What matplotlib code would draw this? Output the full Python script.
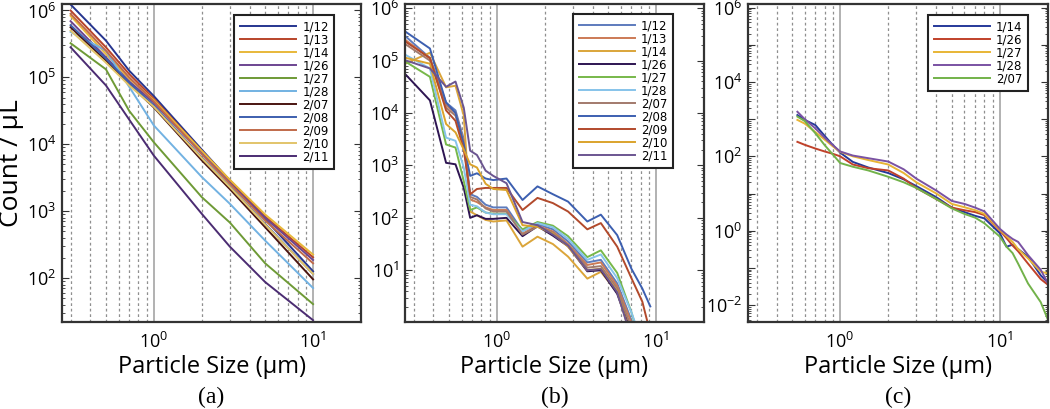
"""Particle size distributions, three panels (a)-(c), log-log counts per uL."""

import matplotlib

matplotlib.use("Agg")
import matplotlib.pyplot as plt
import numpy as np
from matplotlib.ticker import FixedLocator, FuncFormatter, LogLocator, NullFormatter

# ---- panel (a): smooth distributions --------------------------------------
a_size = [0.3, 0.5, 0.7, 1.0, 2.0, 3.0, 5.0, 10.0]
a_0112 = [1.23e6, 3.55e5, 1.26e5, 5.25e4, 8.32e3, 2.88e3, 759, 126]
a_0113 = [1.0e6, 2.82e5, 1.12e5, 4.79e4, 7.94e3, 2.88e3, 832, 204]
a_0114 = [8.32e5, 2.24e5, 9.55e4, 4.57e4, 7.94e3, 2.95e3, 891, 224]
a_0126 = [6.92e5, 2.0e5, 8.71e4, 4.17e4, 7.24e3, 2.63e3, 794, 186]
a_0127 = [3.24e5, 1.32e5, 3.16e4, 1.07e4, 1.62e3, 676, 166, 40.7]
a_0128 = [4.79e5, 2.51e5, 7.24e4, 1.91e4, 3.24e3, 1.29e3, 363, 70.8]
a_0207 = [5.62e5, 1.78e5, 7.94e4, 3.55e4, 5.75e3, 2.14e3, 575, 95.5]
a_0208 = [6.03e5, 1.91e5, 8.32e4, 3.80e4, 6.31e3, 2.34e3, 646, 115]
a_0209 = [8.91e5, 2.51e5, 1.0e5, 4.37e4, 7.08e3, 2.57e3, 724, 166]
a_0210 = [5.01e5, 1.66e5, 7.59e4, 3.63e4, 6.17e3, 2.29e3, 631, 115]
a_0211 = [2.82e5, 7.59e4, 2.34e4, 6.76e3, 912, 295, 87.1, 23.4]
a_labels = ["1/12", "1/13", "1/14", "1/26", "1/27", "1/28",
            "2/07", "2/08", "2/09", "2/10", "2/11"]
a_colors = ["#26358f", "#b8442a", "#e8b83a", "#6c4590", "#6e9a36", "#72b2e2",
            "#4a1410", "#3d5fae", "#c06a4a", "#e2c46a", "#4b2c72"]

# ---- panel (b): binned, jagged ------------------------------------------
b_size = [0.27, 0.38, 0.48, 0.55, 0.62, 0.68, 0.75, 0.85, 0.95, 1.15,
          1.45, 1.8, 2.25, 2.8, 3.7, 4.5, 5.7, 7.0, 8.2, 9.2]
b_0112 = [2.82e5, 1.12e5, 1.58e4, 1.12e4, 3.16e3, 282, 251, 178, 158, 158,
          56.2, 75.9, 60.3, 35.5, 14.1, 15.8, 5.62, 1.12, 0.25, 0.1]
b_0113 = [2.40e5, 1.10e5, 1.41e4, 1.0e4, 2.82e3, 224, 200, 158, 141, 141,
          50.1, 70.8, 55.0, 31.6, 12.6, 14.1, 5.01, 1.0, 0.2, 0.1]
b_0114 = [8.91e4, 1.41e5, 3.09e4, 3.31e4, 8.91e3, 132, 112, 91.2, 85.1, 89.1,
          28.2, 43.7, 31.6, 18.2, 6.92, 9.33, 3.80, 0.63, 0.1, 0.1]
b_0126 = [5.25e4, 1.74e4, 1.12e3, 1.05e3, 372, 100, 112, 95.5, 95.5, 100,
          44.7, 69.2, 45.7, 28.8, 9.55, 10.0, 3.55, 0.63, 0.1, 0.1]
b_0127 = [9.33e4, 4.90e4, 2.51e3, 2.19e3, 501, 141, 158, 126, 120, 120,
          60.3, 83.2, 70.8, 44.7, 17.8, 24.0, 8.91, 1.58, 0.32, 0.1]
b_0128 = [1.26e5, 7.08e4, 3.39e3, 2.95e3, 912, 178, 166, 126, 117, 117,
          55.0, 79.4, 66.1, 39.8, 15.8, 20.0, 7.08, 1.58, 0.4, 0.1]
b_0207 = [2.0e5, 1.0e5, 1.26e4, 8.91e3, 2.51e3, 251, 224, 151, 132, 132,
          47.9, 67.6, 52.5, 30.2, 11.2, 12.0, 4.47, 0.79, 0.16, 0.1]
b_0208 = [3.47e5, 1.70e5, 1.58e4, 1.0e4, 2.51e3, 631, 708, 562, 525, 562,
          219, 398, 282, 204, 85.1, 115, 46.8, 10.7, 4.47, 2.04]
b_0209 = [2.24e5, 1.12e5, 1.12e4, 7.08e3, 2.0e3, 282, 355, 372, 372, 372,
          141, 240, 191, 132, 60.3, 79.4, 28.2, 7.08, 2.51, 0.63]
b_0210 = [1.12e5, 8.71e4, 6.17e3, 4.27e3, 2.0e3, 1.05e3, 912, 447, 355, 339,
          72.4, 67.6, 50.1, 28.2, 10.0, 10.7, 3.98, 0.5, 0.1, 0.1]
b_0211 = [1.0e5, 7.08e4, 3.16e4, 3.98e4, 1.26e4, 1.91e3, 1.58e3, 794, 631, 457,
          83.2, 72.4, 47.9, 29.5, 10.0, 10.5, 3.80, 0.5, 0.1, 0.1]
b_labels = a_labels
b_colors = ["#5d7bbd", "#cc7a55", "#dba53a", "#2e1552", "#77b84a", "#86c3ea",
            "#a27a6c", "#3c5fb0", "#b24a2c", "#dba32c", "#6b5590"]

# ---- panel (c): five days, wider size range ------------------------------
c_size = [0.54, 0.6, 0.7, 0.8, 0.9, 1.0, 1.2, 1.5, 2.0, 2.5, 3.0, 4.0,
          5.0, 6.0, 7.0, 8.0, 10.0, 11.0, 12.0, 13.0, 15.0, 18.0, 20.0]
c_0114 = [1.29e3, 955, 692, 355, 200, 126, 70.8, 50.1, 35.5, 24.0, 15.8, 7.94,
          4.17, 3.16, 2.51, 2.14, 0.85, 0.37, 0.42, 0.32, 0.2, 0.063, 0.04]
c_0126 = [245, 204, 162, 135, 117, 100, 60.3, 47.9, 41.7, 25.1, 14.1, 7.08,
          4.17, 3.55, 3.16, 2.63, 1.0, 0.63, 0.4, 0.28, 0.13, 0.05, 0.035]
c_0127 = [955, 759, 447, 282, 186, 132, 100, 79.4, 60.3, 35.5, 20.0, 10.0,
          5.25, 4.27, 3.55, 2.82, 1.05, 0.71, 0.5, 0.32, 0.18, 0.079, 0.071]
c_0128 = [1.58e3, 1.0e3, 562, 316, 200, 135, 105, 89.1, 72.4, 44.7, 25.1, 12.0,
          6.31, 5.25, 4.17, 3.31, 1.12, 0.79, 0.6, 0.5, 0.22, 0.089, 0.038]
c_0207 = [1.17e3, 891, 417, 200, 112, 66.1, 52.5, 41.7, 28.2, 20.0, 14.1, 7.08,
          3.98, 2.82, 2.24, 1.58, 0.69, 0.37, 0.25, 0.13, 0.038, 0.012, 0.004]
c_labels = ["1/14", "1/26", "1/27", "1/28", "2/07"]
c_colors = ["#26399a", "#c0412a", "#e8b535", "#7a52a3", "#72b24a"]

plt.rcParams["font.family"] = ["Open Sans", "DejaVu Sans"]
plt.rcParams["mathtext.default"] = "regular"

W, H = 1050, 409
fig = plt.figure(figsize=(W / 100, H / 100), dpi=100)


def frac(left, top, right, bottom):
    return [left / W, 1 - bottom / H, (right - left) / W, (bottom - top) / H]


def style(ax, ylim, label_every=1):
    ax.set_xscale("log")
    ax.set_yscale("log")
    ax.set_xlim(0.265, 20)
    ax.set_ylim(*ylim)
    ax.set_axisbelow(True)
    ax.xaxis.set_major_locator(FixedLocator([1, 10]))
    ax.xaxis.set_minor_locator(FixedLocator([0.3, 0.4, 0.5, 0.6, 0.7, 0.8, 0.9,
                                             2, 3, 4, 5, 6, 7, 8, 9]))
    ax.xaxis.set_major_formatter(FuncFormatter(
        lambda v, _: f"$10^{{{int(round(np.log10(v)))}}}$"))
    ax.xaxis.set_minor_formatter(NullFormatter())
    ax.yaxis.set_major_locator(LogLocator(base=10, numticks=20))
    ax.yaxis.set_minor_locator(LogLocator(base=10, subs=np.arange(2, 10), numticks=20))

    def yfmt(v, _):
        e = int(round(np.log10(v)))
        return f"$10^{{{e}}}$" if e % label_every == 0 else ""

    ax.yaxis.set_major_formatter(FuncFormatter(yfmt))
    ax.yaxis.set_minor_formatter(NullFormatter())
    ax.grid(True, which="major", axis="x", color="#ababab", lw=1.3, ls="-")
    ax.grid(True, which="minor", axis="x", color="#8f8f8f", lw=0.9, ls=(0, (2.2, 2.2)))
    ax.tick_params(axis="y", which="both", direction="in", left=True, right=True,
                   labelsize=13, pad=4, color="#333333")
    ax.tick_params(axis="y", which="major", length=5)
    ax.tick_params(axis="y", which="minor", length=2.5)
    ax.tick_params(axis="x", which="both", length=0, labelsize=13, pad=7)
    for s in ax.spines.values():
        s.set_color("#333333")
        s.set_linewidth(1.6)
    ax.set_xlabel("Particle Size (\u03bcm)", fontsize=17, labelpad=2)


def add_legend(ax, anchor):
    leg = ax.legend(loc="upper right", bbox_to_anchor=anchor, fancybox=False,
                    edgecolor="#222222", framealpha=1,
                    handlelength=4.8, handletextpad=0.5, labelspacing=0.0,
                    borderpad=0.45, borderaxespad=0,
                    prop={"family": "DejaVu Sans", "size": 8.5})
    leg.get_frame().set_linewidth(1.5)


panels = [
    ("(a)", frac(62, 4, 361, 322), (22, 1.25e6), 1, a_size,
     [a_0112, a_0113, a_0114, a_0126, a_0127, a_0128,
      a_0207, a_0208, a_0209, a_0210, a_0211], a_labels, a_colors, (0.91, 0.965)),
    ("(b)", frac(405, 4, 704, 322), (1.03, 1.2e6), 1, b_size,
     [b_0112, b_0113, b_0114, b_0126, b_0127, b_0128,
      b_0207, b_0208, b_0209, b_0210, b_0211], b_labels, b_colors, (0.896, 0.968)),
    ("(c)", frac(748, 4, 1048, 322), (3.5e-3, 1.25e6), 2, c_size,
     [c_0114, c_0126, c_0127, c_0128, c_0207], c_labels, c_colors, (0.933, 0.965)),
]

for tag, rect, ylim, every, xs, series, labels, colors, anchor in panels:
    ax = fig.add_axes(rect)
    for ys, lab, col in zip(series, labels, colors):
        ax.plot(xs, ys, color=col, lw=1.4, label=lab)
    style(ax, ylim, every)
    add_legend(ax, anchor)
    fig.text(rect[0] + rect[2] / 2, 1 - 397 / H, tag, ha="center", va="center",
             fontsize=17, family=["Liberation Serif", "DejaVu Serif"])
    if tag == "(a)":
        ax.set_ylabel("Count / \u03bcL", fontsize=19, labelpad=2)

fig.savefig("out.png", dpi=100)
